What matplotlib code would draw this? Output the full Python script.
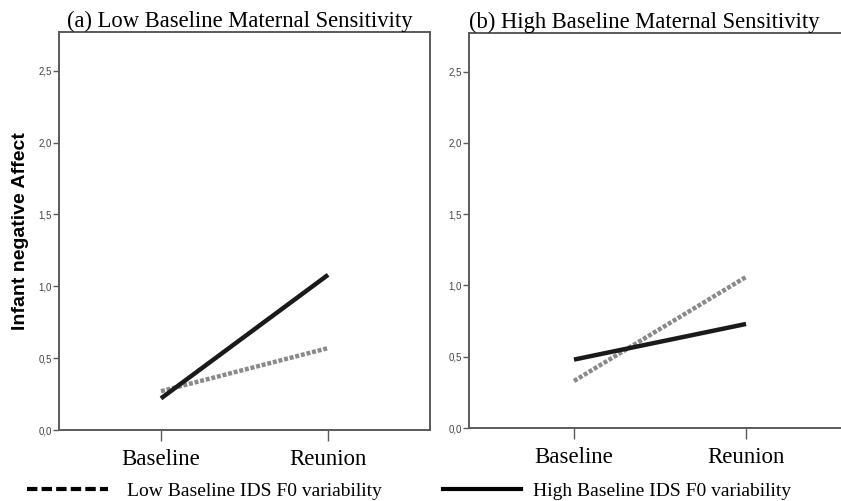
import matplotlib
matplotlib.use('Agg')
import matplotlib.pyplot as plt
from matplotlib.lines import Line2D

timepoints = ['Baseline', 'Reunion']
panel_titles = ['(a) Low Baseline Maternal Sensitivity', '(b) High Baseline Maternal Sensitivity']
legend_labels = ['Low Baseline IDS F0 variability', 'High Baseline IDS F0 variability']

# infant negative affect
low_sens_low_f0 = [0.27, 0.57]
low_sens_high_f0 = [0.22, 1.08]
high_sens_low_f0 = [0.33, 1.06]
high_sens_high_f0 = [0.48, 0.73]

yticks = [0.0, 0.5, 1.0, 1.5, 2.0, 2.5]
ytick_labels = ['0,0', '0,5', '1,0', '1,5', '2,0', '2,5']

serif = 'Liberation Serif'
sans = 'Liberation Sans'
spine_col = '#5a5a5a'

fig = plt.figure(figsize=(8.41, 5.01), dpi=100)
ax1 = fig.add_axes([0.0702, 0.1417, 0.4411, 0.7944])
ax2 = fig.add_axes([0.5577, 0.1457, 0.4542, 0.788])

panels = [(ax1, low_sens_low_f0, low_sens_high_f0), (ax2, high_sens_low_f0, high_sens_high_f0)]
x = [1, 2]
title_x = [0.487, 0.46]

for i, (ax, low, high) in enumerate(panels):
    ax.plot(x, low, color='#8a8a8a', lw=3.2, linestyle=(0, (0.9, 0.4)), solid_capstyle='butt')
    ax.plot(x, high, color='#1a1a1a', lw=3.2, solid_capstyle='butt')
    ax.set_xlim(0.39, 2.61)
    ax.set_ylim(0, 2.77)
    ax.set_yticks(yticks)
    ax.set_yticklabels(ytick_labels, fontsize=7, family=sans, color='#444444')
    ax.set_xticks(x)
    ax.set_xticklabels(timepoints, fontsize=16.5, family=serif)
    ax.tick_params(axis='y', length=4, width=1, color=spine_col, pad=1)
    ax.tick_params(axis='x', length=8, width=1, color=spine_col, pad=6)
    for s in ax.spines.values():
        s.set_color(spine_col)
        s.set_linewidth(1.4)
    ax.set_title(panel_titles[i], fontsize=16.3, family=serif, pad=3, x=title_x[i])

ax1.set_ylabel('Infant negative Affect', fontsize=14, family=sans, fontweight='bold', labelpad=7)

leg_font = {'family': serif, 'size': 14}
h_low = Line2D([], [], color='black', lw=3, linestyle=(0, (2.5, 1.0)))
h_high = Line2D([], [], color='black', lw=3)
fig.legend([h_low], legend_labels[:1], loc='center left', bbox_to_anchor=(0.032, 0.02),
           frameon=False, prop=leg_font, handlelength=4.17, handletextpad=1.0,
           borderpad=0, borderaxespad=0)
fig.legend([h_high], legend_labels[1:], loc='center left', bbox_to_anchor=(0.527, 0.02),
           frameon=False, prop=leg_font, handlelength=4.0, handletextpad=0.6,
           borderpad=0, borderaxespad=0)

fig.savefig('out.png', dpi=100)
